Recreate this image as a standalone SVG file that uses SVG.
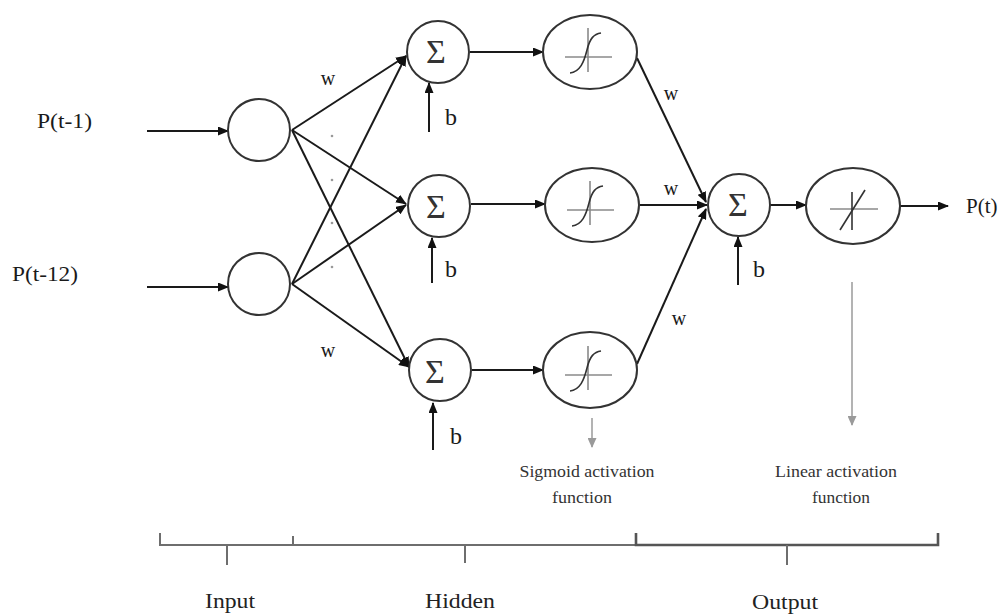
<svg xmlns="http://www.w3.org/2000/svg" width="1001" height="614" viewBox="0 0 1001 614">
<defs>
<style>
.ln{stroke:#1a1a1a;stroke-width:2;fill:none}
.nd{stroke:#333;stroke-width:2;fill:#fff}
.ax{stroke:#8a8a8a;stroke-width:1.6;fill:none}
.cv{stroke:#333;stroke-width:1.6;fill:none}
.gr{stroke:#9a9a9a;stroke-width:1.5;fill:none}
.br{stroke:#6e6e6e;stroke-width:2;fill:none}
text{font-family:"Liberation Serif","Times New Roman",serif;fill:#1a1a1a}
.lab{font-size:21px}
.w{font-size:20px;text-anchor:middle}
.b{font-size:24px}
.sg{font-size:34px;text-anchor:middle;fill:#333}
.an{font-size:17px;text-anchor:middle;fill:#333}
.ly{font-size:22px;text-anchor:middle;fill:#222}
</style>
<marker id="ah" markerWidth="11" markerHeight="9" refX="10" refY="4.5" orient="auto" markerUnits="userSpaceOnUse">
<path d="M0,0 L11,4.5 L0,9 Z" fill="#111"/>
</marker>
<marker id="ahg" markerWidth="10" markerHeight="9" refX="9" refY="4.5" orient="auto" markerUnits="userSpaceOnUse">
<path d="M0,0 L10,4.5 L0,9 Z" fill="#9a9a9a"/>
</marker>
<g id="sig">
<line class="ax" x1="-25" y1="5" x2="22" y2="5"/>
<line class="ax" x1="-2" y1="-24" x2="-2" y2="20"/>
<path class="cv" d="M-20,21 C-10,20 -6,10 -3,-2 C0,-14 4,-18 11,-19"/>
</g>
</defs>
<rect width="1001" height="614" fill="#fff"/>

<g id="connectors">
<line class="ln" x1="147" y1="131" x2="228" y2="131" marker-end="url(#ah)"/>
<line class="ln" x1="147" y1="287" x2="228" y2="287" marker-end="url(#ah)"/>
<line class="ln" x1="292" y1="130" x2="406" y2="56" marker-end="url(#ah)"/>
<line class="ln" x1="292" y1="130" x2="406" y2="204" marker-end="url(#ah)"/>
<line class="ln" x1="292" y1="130" x2="409" y2="367" marker-end="url(#ah)"/>
<line class="ln" x1="292" y1="284" x2="406" y2="56" marker-end="url(#ah)"/>
<line class="ln" x1="292" y1="284" x2="406" y2="205" marker-end="url(#ah)"/>
<line class="ln" x1="292" y1="284" x2="409" y2="367" marker-end="url(#ah)"/>
<line class="ln" x1="470" y1="52" x2="543" y2="52" marker-end="url(#ah)"/>
<line class="ln" x1="471" y1="204" x2="545" y2="204" marker-end="url(#ah)"/>
<line class="ln" x1="472" y1="370" x2="543" y2="370" marker-end="url(#ah)"/>
<line class="ln" x1="637" y1="58" x2="706" y2="202" marker-end="url(#ah)"/>
<line class="ln" x1="640" y1="205" x2="707" y2="205" marker-end="url(#ah)"/>
<line class="ln" x1="637" y1="364" x2="706" y2="209" marker-end="url(#ah)"/>
<line class="ln" x1="770" y1="205" x2="806" y2="205" marker-end="url(#ah)"/>
<line class="ln" x1="900" y1="206" x2="948" y2="206" marker-end="url(#ah)"/>
<line class="ln" x1="429" y1="132" x2="429" y2="83" marker-end="url(#ah)"/>
<line class="ln" x1="432" y1="283" x2="432" y2="238" marker-end="url(#ah)"/>
<line class="ln" x1="433" y1="450" x2="433" y2="403" marker-end="url(#ah)"/>
<line class="ln" x1="738" y1="285" x2="738" y2="237" marker-end="url(#ah)"/>
<line class="gr" x1="592" y1="418" x2="592" y2="447" marker-end="url(#ahg)"/>
<line class="gr" x1="852" y1="282" x2="852" y2="425" marker-end="url(#ahg)"/>
<g fill="#999">
<circle cx="332" cy="136" r="1.3"/><circle cx="332" cy="180" r="1.3"/><circle cx="332" cy="223" r="1.3"/><circle cx="332" cy="267" r="1.3"/>
</g>
</g>

<g id="in1"><circle class="nd" cx="259" cy="130" r="31"/></g>
<g id="in2"><circle class="nd" cx="259" cy="284" r="31"/></g>

<g id="h1"><circle class="nd" cx="438" cy="52" r="31"/><text class="sg" x="436" y="63">Σ</text></g>
<g id="h2"><circle class="nd" cx="439" cy="206" r="31"/><text class="sg" x="436" y="218">Σ</text></g>
<g id="h3"><circle class="nd" cx="440" cy="370" r="31"/><text class="sg" x="435" y="383">Σ</text></g>

<g id="s1"><ellipse class="nd" cx="590" cy="52" rx="47" ry="37"/><use href="#sig" x="590" y="52"/></g>
<g id="s2"><ellipse class="nd" cx="592" cy="205" rx="47" ry="37"/><use href="#sig" x="592" y="205"/></g>
<g id="s3"><ellipse class="nd" cx="590" cy="370" rx="47" ry="38"/><use href="#sig" x="590" y="370"/></g>

<g id="o1"><circle class="nd" cx="739" cy="205" r="31"/><text class="sg" x="738" y="216">Σ</text></g>
<g id="o2"><ellipse class="nd" cx="853" cy="206" rx="47" ry="38"/>
<line class="ax" x1="830" y1="209" x2="878" y2="209"/>
<line class="cv" x1="852" y1="192" x2="852" y2="230"/>
<line class="cv" x1="840" y1="230" x2="865" y2="190"/>
</g>

<g id="labels">
<text class="lab" x="37" y="128" textLength="55" lengthAdjust="spacingAndGlyphs">P(t-1)</text>
<text class="lab" x="12" y="281" textLength="66" lengthAdjust="spacingAndGlyphs">P(t-12)</text>
<text class="lab" x="966" y="213">P(t)</text>
<text class="w" x="328" y="85">w</text>
<text class="w" x="328" y="357">w</text>
<text class="w" x="671" y="100">w</text>
<text class="w" x="671" y="195">w</text>
<text class="w" x="679" y="325">w</text>
<text class="b" x="445" y="125">b</text>
<text class="b" x="445" y="277">b</text>
<text class="b" x="450" y="444">b</text>
<text class="b" x="753" y="277">b</text>
<text class="an" x="587" y="477" textLength="135" lengthAdjust="spacingAndGlyphs">Sigmoid activation</text>
<text class="an" x="582" y="503" textLength="60" lengthAdjust="spacingAndGlyphs">function</text>
<text class="an" x="836" y="477" textLength="122" lengthAdjust="spacingAndGlyphs">Linear activation</text>
<text class="an" x="841" y="503" textLength="58" lengthAdjust="spacingAndGlyphs">function</text>
</g>

<g id="braces">
<path class="br" d="M160,533 V545 H636"/>
<line class="br" x1="293" y1="536" x2="293" y2="545"/>
<line class="br" x1="227" y1="545" x2="227" y2="565"/>
<line class="br" x1="465" y1="545" x2="465" y2="563"/>
<path class="br" d="M636,533 V545 H938 V533" style="stroke:#555;stroke-width:2.6"/>
<line class="br" x1="787" y1="545" x2="787" y2="565"/>
<text class="ly" x="230" y="608" textLength="50" lengthAdjust="spacingAndGlyphs">Input</text>
<text class="ly" x="460" y="608" textLength="70" lengthAdjust="spacingAndGlyphs">Hidden</text>
<text class="ly" x="785" y="609" textLength="66" lengthAdjust="spacingAndGlyphs">Output</text>
</g>
</svg>
